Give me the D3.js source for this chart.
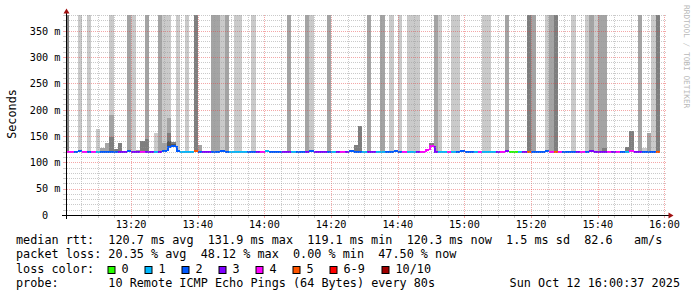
<!DOCTYPE html>
<html>
<head>
<meta charset="utf-8">
<script src="https://cdn.jsdelivr.net/npm/d3@7/dist/d3.min.js"></script>
<style>
  body { margin: 0; background: #fff; }
  svg text { font-family: "DejaVu Sans Mono", monospace; white-space: pre; }
</style>
</head>
<body>
<script>
// one sample every 80 s, first one starts 13:00:03
var stepSec = 80;
var firstSample = new Date(2025, 9, 12, 13, 0, 3);
var viewStart = new Date(2025, 9, 12, 13, 0, 37);
var viewEnd = new Date(2025, 9, 12, 16, 0, 37);

var medianRtt = [
  120.6,120.4,120.5,120.7,120.4,119.1,120.3,120.6,120.5,120.4,
  120.6,120.2,120.5,120.4,120.8,120.3,120.5,120.6,120.4,120.5,
  120.6,120.4,121.8,128.6,131.9,120.7,120.4,120.5,120.3,120.9,
  120.5,120.4,120.6,120.5,120.3,120.7,120.4,120.5,120.6,120.4,
  120.3,120.5,120.6,120.4,120.5,120.7,120.4,120.5,120.3,120.6,
  120.5,120.4,120.6,120.5,120.4,120.7,120.5,120.3,120.6,120.4,
  120.5,120.6,120.4,120.5,120.7,120.3,120.5,120.4,120.6,120.5,
  120.4,120.6,120.5,120.3,120.7,120.2,120.5,120.4,120.6,120.5,
  120.6,123.5,130.8,120.4,120.5,120.3,120.6,120.4,120.5,120.7,
  120.4,120.5,120.3,120.6,120.5,120.4,120.6,120.5,120.3,120.7,
  120.5,120.4,120.6,120.5,120.4,120.6,120.5,120.3,120.7,120.4,
  120.5,120.6,120.4,120.5,120.3,120.6,120.5,120.4,120.7,120.5,
  120.4,120.6,120.5,120.3,120.6,120.4,120.5,120.7,120.4,120.5,
  120.6,120.4,120.5,120.3
];

var lossCount = [
  4,4,2,2,4,2,4,1,2,2,
  2,2,3,3,2,3,3,4,3,3,
  1,3,2,2,2,2,1,1,1,5,
  2,3,3,2,2,2,2,1,1,1,
  1,2,2,3,4,1,2,2,2,3,
  3,1,2,2,3,2,3,3,3,2,
  1,3,4,3,2,2,2,1,3,3,
  1,1,2,2,2,2,4,1,1,3,
  4,4,4,3,1,1,4,1,2,2,
  2,2,1,4,1,1,1,3,4,3,
  0,0,1,3,5,2,2,2,2,4,
  5,4,2,2,2,3,4,2,3,3,
  3,3,4,3,4,2,1,4,3,3,
  2,2,2,5
];

// smoke tops (ms) per shade band, outer to inner; 999 = above the chart, 0 = none
var smoke1 = [
  999,0,0,999,0,999,0,163,128,137,
  999,125,137,0,999,999,123,141,999,0,
  156,999,999,999,139,999,0,999,0,999,
  133,0,0,999,999,999,999,0,999,999,
  0,0,999,0,0,0,0,0,0,0,
  999,0,0,0,999,999,0,0,0,999,
  0,0,0,0,0,133,169,0,999,0,
  0,999,0,999,0,999,0,999,999,999,
  0,125,137,999,999,0,0,999,999,0,
  0,0,0,0,999,999,0,0,0,999,
  0,0,0,0,999,999,0,0,999,999,
  999,0,0,0,999,0,0,999,999,999,
  999,999,0,0,0,0,129,160,0,999,
  127,156,999,999
];
var smoke2 = [
  999,0,0,0,0,0,0,0,128,137,
  190,125,137,0,999,0,123,141,999,0,
  0,999,137,185,139,0,0,0,0,999,
  133,0,0,999,999,0,999,0,0,0,
  0,0,0,0,0,0,0,0,0,0,
  999,0,0,0,999,0,0,0,0,999,
  0,0,0,0,0,133,169,0,999,0,
  0,999,0,0,0,0,0,0,0,0,
  0,125,137,999,0,0,0,0,0,0,
  0,0,0,0,0,0,0,0,0,999,
  0,0,0,0,999,999,0,0,0,999,
  999,0,0,0,0,0,0,0,999,0,
  999,999,0,0,0,0,129,160,0,999,
  0,156,0,999
];
var smoke3 = [
  999,0,0,0,0,0,0,0,0,0,
  148,125,137,0,0,0,0,141,144,0,
  0,0,0,155,139,0,0,0,0,999,
  0,0,0,0,0,0,0,0,0,0,
  0,0,0,0,0,0,0,0,0,0,
  0,0,0,0,0,0,0,0,0,0,
  0,0,0,0,0,133,169,0,0,0,
  0,0,0,0,0,0,0,0,0,0,
  0,125,137,0,0,0,0,0,0,0,
  0,0,0,0,0,0,0,0,0,0,
  0,0,0,0,999,0,0,0,0,0,
  999,0,0,0,0,0,0,0,0,0,
  0,127,0,0,0,0,129,160,0,0,
  0,0,0,999
];
var smoke4 = [
  0,0,0,0,0,0,0,0,0,0,
  0,0,0,0,0,0,0,0,0,0,
  0,0,0,140,134,0,0,0,0,0,
  0,0,0,0,0,0,0,0,0,0,
  0,0,0,0,0,0,0,0,0,0,
  0,0,0,0,0,0,0,0,0,0,
  0,0,0,0,0,0,0,0,0,0,
  0,0,0,0,0,0,0,0,0,0,
  0,0,133,0,0,0,0,0,0,0,
  0,0,0,0,0,0,0,0,0,0,
  0,0,0,0,0,0,0,0,0,0,
  0,0,0,0,0,0,0,0,0,0,
  0,0,0,0,0,0,0,0,0,0,
  0,0,0,0
];

var lossLabels = ["0", "1", "2", "3", "4", "5", "6-9", "10/10"];
var lossLevels = [0, 1, 2, 3, 4, 5, 6, 10];
var yTicks = [0, 50, 100, 150, 200, 250, 300, 350];
var rttLine = "median rtt:  120.7 ms avg  131.9 ms max  119.1 ms min  120.3 ms now  1.5 ms sd  82.6   am/s";
var lossLine = "packet loss: 20.35 % avg  48.12 % max  0.00 % min  47.50 % now";
var probeText = "10 Remote ICMP Echo Pings (64 Bytes) every 80s";
var stampText = "Sun Oct 12 16:00:37 2025";

// ---- look ----
var lossPalette = ["#26ff00", "#00b8ff", "#0059ff", "#7e00ff", "#ff00ff", "#ff5500", "#ff0000", "#ff0000", "#ff0000", "#ff0000", "#a10000"];
var smokeGreys = ["#cacaca", "#a4a4a4", "#7e7e7e", "#585858"];
var gridCol = "rgba(150,150,150,0.5)";
var mgridCol = "rgba(230,60,60,0.45)";
var legendFont = 11.8, tickFont = 10.2, adv = legendFont * 0.602;

var svg = d3.select("body").append("svg").attr("width", 697).attr("height", 297);
var x = d3.scaleTime().domain([viewStart, viewEnd]).range([66.5, 666.5]);
var y = d3.scaleLinear().domain([0, 380]).range([215, 15]);

var samples = medianRtt.map(function (m, i) {
  var s = d3.timeSecond.offset(firstSample, i * stepSec);
  return {start: s, end: d3.timeSecond.offset(s, stepSec), median: m, loss: lossCount[i],
          smoke: [smoke1[i], smoke2[i], smoke3[i], smoke4[i]]};
});

svg.append("clipPath").attr("id", "plot").append("rect")
  .attr("x", 67).attr("y", 15).attr("width", 600).attr("height", 200);
var plot = svg.append("g").attr("clip-path", "url(#plot)");

// smoke
smokeGreys.forEach(function (col, k) {
  plot.append("g").attr("shape-rendering", "crispEdges").selectAll("rect")
    .data(samples.filter(function (d) { return d.smoke[k] > 0; }))
    .enter().append("rect")
    .attr("x", function (d) { return Math.round(x(d.start)); })
    .attr("width", function (d) { return Math.round(x(d.end)) - Math.round(x(d.start)); })
    .attr("y", function (d) { return Math.round(y(Math.min(d.smoke[k], 380))); })
    .attr("height", function (d) { return Math.round(y(d.median - 1.5)) - Math.round(y(Math.min(d.smoke[k], 380))); })
    .attr("fill", col);
});

// median, coloured by loss
var medG = plot.append("g").attr("stroke-width", 2).attr("fill", "none");
function my(v) { return Math.round(y(v)); }
samples.forEach(function (d, i) {
  var col = lossPalette[d.loss];
  var xa = Math.round(x(d.start)), xb = Math.round(x(d.end));
  var p = d3.path();
  if (i > 0 && my(samples[i - 1].median) !== my(d.median)) {
    p.moveTo(xa + 1, my(samples[i - 1].median)); p.lineTo(xa + 1, my(d.median));
  }
  p.moveTo(xa, my(d.median));
  p.lineTo(xb, my(d.median));
  medG.append("path").attr("d", p.toString()).attr("stroke", col);
});

// grid on top
var grid = svg.append("g").attr("stroke-dasharray", "1,1").attr("shape-rendering", "crispEdges");
var xMinor = d3.timeMinute.every(5).range(viewStart, viewEnd);
xMinor.forEach(function (t) {
  var major = t.getMinutes() % 20 === 0;
  var px = Math.round(x(t)) + 0.5;
  grid.append("line").attr("x1", px).attr("x2", px).attr("y1", 15).attr("y2", 215)
    .attr("stroke", major ? mgridCol : gridCol);
  svg.append("line").attr("x1", px).attr("x2", px).attr("y1", 216).attr("y2", 218)
    .attr("stroke", major ? mgridCol : gridCol).attr("shape-rendering", "crispEdges");
});
d3.range(10, 381, 10).forEach(function (v) {
  var major = v % 50 === 0;
  var py = Math.round(y(v)) + 0.5;
  grid.append("line").attr("x1", 67).attr("x2", 667).attr("y1", py).attr("y2", py)
    .attr("stroke", major ? mgridCol : gridCol);
  svg.append("line").attr("x1", 63).attr("x2", 66).attr("y1", py).attr("y2", py)
    .attr("stroke", major ? mgridCol : gridCol).attr("shape-rendering", "crispEdges");
});

// axes and arrows
svg.append("line").attr("x1", 62).attr("x2", 671).attr("y1", 215.5).attr("y2", 215.5)
  .attr("stroke", "#000").attr("shape-rendering", "crispEdges");
svg.append("line").attr("x1", 66.5).attr("x2", 66.5).attr("y1", 219).attr("y2", 11)
  .attr("stroke", "#000").attr("shape-rendering", "crispEdges");
svg.append("path").attr("d", "M668.5,212.5L668.5,218.5L673.5,215.5Z").attr("fill", "#a01010");
svg.append("path").attr("d", "M63.5,13.5L69.5,13.5L66.5,8.5Z").attr("fill", "#a01010");

// tick labels
svg.append("g").selectAll("text").data(d3.timeMinute.every(20).range(viewStart, viewEnd))
  .enter().append("text")
  .attr("x", function (t) { return x(t); }).attr("y", 228)
  .attr("text-anchor", "middle").attr("font-size", tickFont)
  .text(d3.timeFormat("%H:%M"));
svg.append("g").selectAll("text").data(yTicks).enter().append("text")
  .attr("x", function (v) { return v === 0 ? 60.5 - 2 * tickFont * 0.602 : 60.5; })
  .attr("y", function (v) { return y(v) + 3.8; })
  .attr("text-anchor", "end").attr("font-size", tickFont)
  .text(function (v) { return v === 0 ? "0" : v + " m"; });

svg.append("text").attr("transform", "translate(15.5,114) rotate(-90)")
  .attr("text-anchor", "middle").attr("font-size", legendFont).text("Seconds");
svg.append("text").attr("transform", "translate(684,5) rotate(90)")
  .attr("font-size", 7.8).attr("fill", "#b8b8b8").text("RRDTOOL / TOBI OETIKER");

// legend
var leg = svg.append("g").attr("font-size", legendFont);
leg.append("text").attr("x", 16).attr("y", 244).text(rttLine);
leg.append("text").attr("x", 16).attr("y", 258.3).text(lossLine);
leg.append("text").attr("x", 16).attr("y", 272.7).text("loss color:");
var itemX = [107.5, 144.5, 181.5, 218.5, 255.5, 292.5, 329.5, 381.5];
lossLabels.forEach(function (lab, i) {
  leg.append("rect").attr("x", itemX[i] + 0.5).attr("y", 266.5).attr("width", 7).attr("height", 7)
    .attr("fill", lossPalette[lossLevels[i]]).attr("stroke", "#000").attr("stroke-width", 1);
  leg.append("text").attr("x", itemX[i] + 14).attr("y", 272.7).text(lab);
});
leg.append("text").attr("x", 16).attr("y", 287).text("probe:");
leg.append("text").attr("x", 16 + 13 * adv).attr("y", 287).text(probeText);
leg.append("text").attr("x", 680).attr("y", 287).attr("text-anchor", "end").text(stampText);
</script>
</body>
</html>
